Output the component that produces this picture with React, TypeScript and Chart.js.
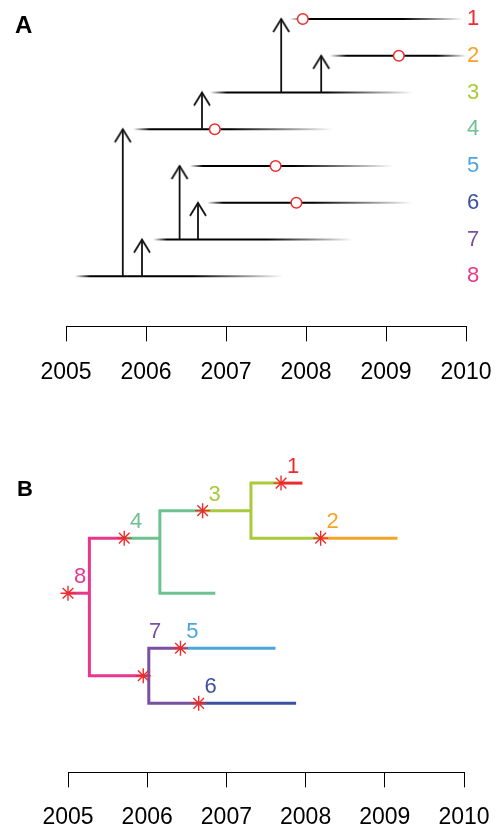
import React, { useEffect, useRef } from "react";
import { Chart, registerables } from "chart.js";

Chart.register(...registerables);

const FONT = "'Liberation Sans', Arial, Helvetica, sans-serif";

// Lineages 1..8
const lineageNames = ["1", "2", "3", "4", "5", "6", "7", "8"];
const lineageColors = ["#EE2A2F", "#F6A329", "#A9CA3C", "#6EC28F", "#4CA5DE", "#3B51A1", "#7A50A0", "#E8378C"];
const tickYears = [2005, 2006, 2007, 2008, 2009, 2010];

// Time each lineage was infected (lineage 8 is the index case)
const birthYear = [2007.69, 2008.19, 2006.7, 2005.71, 2006.42, 2006.65, 2005.95, 2005.0];
// Lineage that transmitted to each lineage (0 = none)
const sourceLineage = [3, 3, 4, 8, 7, 7, 8, 0];
// Sampling time of each lineage (null = not sampled)
const sampleYear: (number | null)[] = [2007.96, 2009.16, null, 2006.86, 2007.62, 2007.88, null, null];

// Panel A: infectious-period traces, fading in and out
const traceStart = [2007.8, 2008.3, 2006.8, 2005.84, 2006.55, 2006.76, 2006.09, 2005.11];
const traceSolidFrom = [2008.01, 2008.51, 2007.01, 2006.05, 2006.71, 2006.96, 2006.26, 2005.3];
const traceSolidTo = [2009.21, 2009.64, 2008.26, 2007.05, 2007.84, 2008.09, 2007.51, 2006.59];
const traceEnd = [2009.96, 2010.01, 2009.34, 2008.34, 2009.09, 2009.34, 2008.59, 2007.71];

// Panel B: tree level of each lineage's transmission star and of its label
const starLevel = [0, 2, 1, 2, 6, 8, 7, 4];
const labelLevel = [0, 2, 1, 2, 6, 8, 6, 4];

// Panel B: branch paths ([year, level]) and the lineage colouring each one
const branchLineage = [8, 8, 4, 4, 3, 3, 1, 2, 7, 7, 5, 6];
const branchPath: number[][][] = [
  [[2005.0, 4], [2005.27, 4]],
  [[2005.71, 2], [2005.27, 2], [2005.27, 7], [2005.95, 7]],
  [[2005.71, 2], [2006.16, 2]],
  [[2006.7, 1], [2006.16, 1], [2006.16, 4], [2006.86, 4]],
  [[2006.7, 1], [2007.31, 1]],
  [[2007.69, 0], [2007.31, 0], [2007.31, 2], [2008.19, 2]],
  [[2007.69, 0], [2007.96, 0]],
  [[2008.19, 2], [2009.16, 2]],
  [[2005.95, 7], [2006.02, 7]],
  [[2006.42, 6], [2006.02, 6], [2006.02, 8], [2006.65, 8]],
  [[2006.42, 6], [2007.62, 6]],
  [[2006.65, 8], [2007.88, 8]],
];

const MARK_RED = "#EE2B2B";

function timeAxis(tickPadding: number) {
  return {
    type: "linear" as const,
    position: "bottom" as const,
    min: 2005,
    max: 2010,
    afterBuildTicks: (scale: any) => {
      scale.ticks = tickYears.map((v) => ({ value: v }));
    },
    ticks: {
      callback: (v: any) => String(v),
      font: { family: FONT, size: 23 },
      color: "#000",
      padding: tickPadding,
      maxRotation: 0,
      autoSkip: false,
    },
    grid: { drawOnChartArea: false, drawTicks: true, tickLength: 15, color: "#000", lineWidth: 1 },
    border: { display: true, color: "#000", width: 1 },
  };
}

function makeArrowHead(): HTMLCanvasElement {
  const c = document.createElement("canvas");
  c.width = 20;
  c.height = 32;
  const g = c.getContext("2d")!;
  g.strokeStyle = "#111";
  g.lineWidth = 1.8;
  g.lineJoin = "miter";
  g.beginPath();
  g.moveTo(2, 29);
  g.lineTo(10, 16);
  g.lineTo(18, 29);
  g.stroke();
  return c;
}

function traceGradient(chart: Chart, i: number) {
  const { chartArea, scales } = chart as any;
  if (!chartArea || !scales.x) return "#000";
  const xs = scales.x;
  const p0 = xs.getPixelForValue(traceStart[i]);
  const p1 = xs.getPixelForValue(traceSolidFrom[i]);
  const p2 = xs.getPixelForValue(traceSolidTo[i]);
  const p3 = xs.getPixelForValue(traceEnd[i]);
  const w = p3 - p0;
  const g = chart.ctx.createLinearGradient(p0, 0, p3, 0);
  g.addColorStop(0, "rgba(0,0,0,0)");
  g.addColorStop((p1 - p0) / w, "rgba(0,0,0,1)");
  g.addColorStop((p2 - p0) / w, "rgba(0,0,0,1)");
  g.addColorStop(1, "rgba(0,0,0,0)");
  return g;
}

function configA(arrowHead: HTMLCanvasElement): any {
  const circles = {
    data: sampleYear
      .map((s, i) => (s === null ? null : { x: s, y: i + 1 }))
      .filter((p) => p !== null),
    showLine: false,
    pointStyle: "circle",
    pointRadius: 5.3,
    pointBorderWidth: 1.5,
    pointBorderColor: MARK_RED,
    pointBackgroundColor: "#fff",
    clip: false,
    order: 0,
  };
  const arrows = birthYear
    .map((b, i) => ({ b, i }))
    .filter(({ i }) => sourceLineage[i] > 0)
    .map(({ b, i }) => ({
      data: [
        { x: b, y: sourceLineage[i] },
        { x: b, y: i + 1 },
      ],
      showLine: true,
      borderColor: "#111",
      borderWidth: 1.8,
      pointRadius: (c: any) => (c.dataIndex === 1 ? 6 : 0),
      pointStyle: (c: any) => (c.dataIndex === 1 ? arrowHead : false),
      clip: false,
      order: 1,
    }));
  const traces = lineageNames.map((_, i) => ({
    data: [
      { x: traceStart[i], y: i + 1 },
      { x: traceEnd[i], y: i + 1 },
    ],
    showLine: true,
    borderWidth: 2,
    borderColor: (c: any) => traceGradient(c.chart, i),
    pointRadius: 0,
    clip: false,
    order: 2,
  }));

  const textPlugin = {
    id: "panelAText",
    afterDraw(chart: any) {
      const { ctx, scales } = chart;
      ctx.save();
      ctx.fillStyle = "#000";
      ctx.font = `bold 24px ${FONT}`;
      ctx.textAlign = "left";
      ctx.textBaseline = "alphabetic";
      ctx.fillText("A", 15, 33);
      ctx.font = `22px ${FONT}`;
      ctx.textAlign = "center";
      ctx.textBaseline = "middle";
      const xr = scales.x.getPixelForValue(2010) + 7;
      lineageNames.forEach((name, i) => {
        ctx.fillStyle = lineageColors[i];
        ctx.fillText(name, xr, scales.y.getPixelForValue(i + 1));
      });
      ctx.restore();
    },
  };

  return {
    type: "scatter",
    data: { datasets: [circles, ...arrows, ...traces] },
    options: {
      responsive: false,
      animation: false,
      devicePixelRatio: 1,
      events: [],
      layout: { autoPadding: false, padding: { left: 66, right: 54, top: 0, bottom: 17 } },
      plugins: { legend: { display: false }, tooltip: { enabled: false } },
      scales: {
        x: timeAxis(17),
        y: { display: false, reverse: true, min: 0.4825, max: 9.362 },
      },
    },
    plugins: [textPlugin],
  };
}

function configB(): any {
  const stars = {
    data: birthYear.map((b, i) => ({ x: b, y: starLevel[i] })),
    showLine: false,
    pointStyle: "star",
    pointRadius: 7.5,
    pointBorderWidth: 1.4,
    pointBorderColor: MARK_RED,
    pointBackgroundColor: MARK_RED,
    clip: false,
    order: 0,
  };
  const branches = branchPath.map((path, k) => ({
    data: path.map(([x, y]) => ({ x, y })),
    showLine: true,
    borderWidth: 3,
    borderColor: lineageColors[branchLineage[k] - 1],
    pointRadius: 0,
    clip: false,
    order: 1,
  }));

  const textPlugin = {
    id: "panelBText",
    afterDraw(chart: any) {
      const { ctx, scales } = chart;
      ctx.save();
      ctx.fillStyle = "#000";
      ctx.font = `bold 22px ${FONT}`;
      ctx.textAlign = "left";
      ctx.textBaseline = "alphabetic";
      ctx.fillText("B", 17, 116);
      ctx.font = `22px ${FONT}`;
      ctx.textAlign = "center";
      ctx.textBaseline = "middle";
      lineageNames.forEach((name, i) => {
        ctx.fillStyle = lineageColors[i];
        const x = scales.x.getPixelForValue(birthYear[i]) + 12;
        const y = scales.y.getPixelForValue(labelLevel[i]) - 16;
        ctx.fillText(name, x, y);
      });
      ctx.restore();
    },
  };

  return {
    type: "scatter",
    data: { datasets: [stars, ...branches] },
    options: {
      responsive: false,
      animation: false,
      devicePixelRatio: 1,
      events: [],
      layout: { autoPadding: false, padding: { left: 68, right: 56, top: 0, bottom: 3 } },
      plugins: { legend: { display: false }, tooltip: { enabled: false } },
      elements: { line: { borderCapStyle: "butt", borderJoinStyle: "miter", tension: 0 } },
      scales: {
        x: timeAxis(16),
        y: { display: false, reverse: true, min: -3.745, max: 10.509 },
      },
    },
    plugins: [textPlugin],
  };
}

export default function App() {
  const refA = useRef<HTMLCanvasElement>(null);
  const refB = useRef<HTMLCanvasElement>(null);

  useEffect(() => {
    const arrowHead = makeArrowHead();
    const chartA = new Chart(refA.current!, configA(arrowHead));
    const chartB = new Chart(refB.current!, configB());
    return () => {
      chartA.destroy();
      chartB.destroy();
    };
  }, []);

  return (
    <div
      style={{
        position: "fixed",
        left: 0,
        top: 0,
        width: 500,
        height: 829,
        overflow: "hidden",
        background: "#fff",
      }}
    >
      <canvas ref={refA} width={520} height={420} style={{ position: "absolute", left: 0, top: 0 }} />
      <canvas ref={refB} width={520} height={470} style={{ position: "absolute", left: 0, top: 380 }} />
    </div>
  );
}
